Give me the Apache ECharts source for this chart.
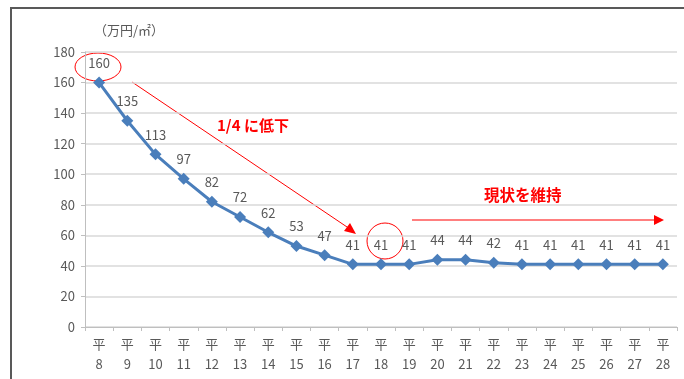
<!DOCTYPE html>
<html>
<head>
<meta charset="utf-8">
<script src="https://cdn.jsdelivr.net/npm/echarts@6/dist/echarts.min.js"></script>
<style>
  html, body { margin: 0; padding: 0; background: #fff; }
  #chart { width: 684px; height: 379px; }
</style>
</head>
<body>
<div id="chart"></div>
<script>
// 平成8年〜28年の価格推移（万円/㎡）
const years = ['8','9','10','11','12','13','14','15','16','17','18','19','20','21','22','23','24','25','26','27','28'];
const prices = [160,135,113,97,82,72,62,53,47,41,41,41,44,44,42,41,41,41,41,41,41];
const yTicks = { min: 0, max: 180, step: 20 };

const chart = echarts.init(document.getElementById('chart'));
const font = '"Noto Sans CJK JP", "Noto Sans", sans-serif';
const txt = '#595959';
const red = '#ff0000';

chart.setOption({
  animation: false,
  grid: { left: 85, right: 7, top: 52, bottom: 52 },
  xAxis: {
    type: 'category',
    data: years.map(y => '平\n' + y),
    boundaryGap: true,
    axisLine: { lineStyle: { color: '#bfbfbf', width: 1 } },
    axisTick: { show: true, length: 4, lineStyle: { color: '#bfbfbf' } },
    axisLabel: { color: txt, fontFamily: font, fontSize: 13, lineHeight: 20, margin: 7, interval: 0 }
  },
  yAxis: {
    type: 'value',
    min: yTicks.min, max: yTicks.max, interval: yTicks.step,
    axisLine: { show: true, lineStyle: { color: '#bfbfbf', width: 1 } },
    axisTick: { show: true, length: 4, lineStyle: { color: '#bfbfbf' } },
    axisLabel: { color: txt, fontFamily: font, fontSize: 13, margin: 10 },
    splitLine: { lineStyle: { color: '#d9d9d9', width: 1.5 } }
  },
  series: [{
    type: 'line',
    data: prices,
    symbol: 'diamond',
    symbolSize: 12,
    lineStyle: { color: '#4a7ebb', width: 3 },
    itemStyle: { color: '#4a7ebb' },
    label: { show: true, position: 'top', distance: 7, color: txt, fontFamily: font, fontSize: 13 }
  }],
  graphic: [
    // 外枠
    { type: 'polyline', shape: { points: [[11, 379], [11, 8], [684, 8]] },
      style: { stroke: '#595959', lineWidth: 2, fill: null } },
    // 単位
    { type: 'text', left: 94, top: 24,
      style: { text: '（万円/㎡）', fill: txt, font: '13px ' + font } },
    // 注記の楕円
    { type: 'ellipse', shape: { cx: 98, cy: 67, rx: 23, ry: 14 },
      style: { stroke: red, lineWidth: 1, fill: null } },
    { type: 'ellipse', shape: { cx: 385, cy: 241, rx: 18, ry: 18 },
      style: { stroke: red, lineWidth: 1, fill: null } },
    // 下降の矢印
    { type: 'line', shape: { x1: 132, y1: 82, x2: 350, y2: 229 },
      style: { stroke: red, lineWidth: 1 } },
    { type: 'polygon', shape: { points: [[356, 234], [344, 231], [350, 223]] },
      style: { fill: red } },
    { type: 'text', left: 217, top: 118,
      style: { text: '1/4 に低下', fill: red, font: 'bold 15px ' + font } },
    // 横ばいの矢印
    { type: 'line', shape: { x1: 412, y1: 220, x2: 656, y2: 220 },
      style: { stroke: red, lineWidth: 1.2 } },
    { type: 'polygon', shape: { points: [[664, 220], [654, 215], [654, 225]] },
      style: { fill: red } },
    { type: 'text', left: 484, top: 187,
      style: { text: '現状を維持', fill: red, font: 'bold 15.5px ' + font } }
  ]
});
</script>
</body>
</html>
